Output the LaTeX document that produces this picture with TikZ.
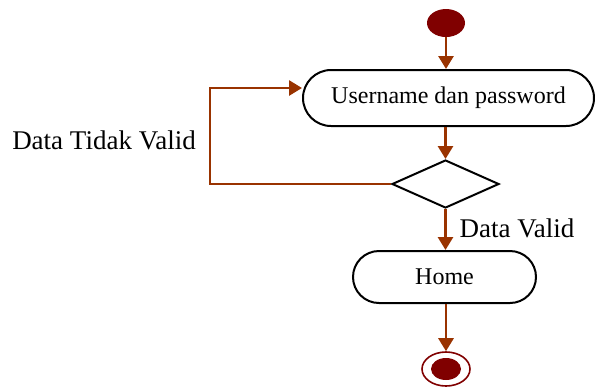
\documentclass[tikz,border=0pt]{standalone}
\usepackage{fontspec}
\setmainfont{Liberation Serif}
\usetikzlibrary{arrows.meta,shapes.geometric}
\definecolor{flowc}{HTML}{993300}
\definecolor{dotc}{HTML}{800000}
\begin{document}
\begin{tikzpicture}[x=0.5pt,y=-0.5pt,
  action/.style={draw=black,line width=1pt,rounded corners=13pt,minimum height=26pt,inner sep=0pt,
    font=\fontsize{12}{14}\selectfont},
  decision/.style={draw=black,line width=1pt,diamond,inner sep=0pt,minimum width=53.5pt,minimum height=24pt},
  flow/.style={draw=flowc,line width=1.4pt,-{Triangle[length=6.5pt,width=7.5pt]}},
  startdot/.style={ellipse,fill=dotc,minimum width=19pt,minimum height=14pt,inner sep=0pt},
  lbl/.style={inner sep=0pt,font=\fontsize{13.5}{16}\selectfont}]
\useasboundingbox (0,0) rectangle (595,388);
% start and login step
\node[startdot] (start) at (446,23) {};
\node[action,rounded corners=14pt,minimum width=145.5pt,minimum height=28pt] (user) at (448.5,98) {Username dan password};
% validation
\node[decision] (dia) at (445.5,184) {};
\node[action,minimum width=91.5pt] (home) at (444.5,277) {Home};
% final state
\node[ellipse,draw=dotc,line width=0.8pt,minimum width=24pt,minimum height=17pt,inner sep=0pt] (stop) at (446,369) {};
\node[ellipse,fill=dotc,minimum width=15pt,minimum height=11pt,inner sep=0pt] (stopin) at (446,369) {};
% flows
\draw[flow] (start) -- (start |- user.north);
\draw[flow] (user.south -| dia.north) -- (dia.north);
\coordinate (loop) at (210,88);
\draw[flow] (dia.west) -| (loop) -- (loop -| user.west);
\draw[flow] (dia.south) -- (dia.south |- home.north);
\draw[flow] (home.south -| stop.north) -- (stop.north);
% guards
\node[lbl] (bad) at (104,140) {Data Tidak Valid};
\node[lbl] (good) at (517,228) {Data Valid};
\end{tikzpicture}
\end{document}
